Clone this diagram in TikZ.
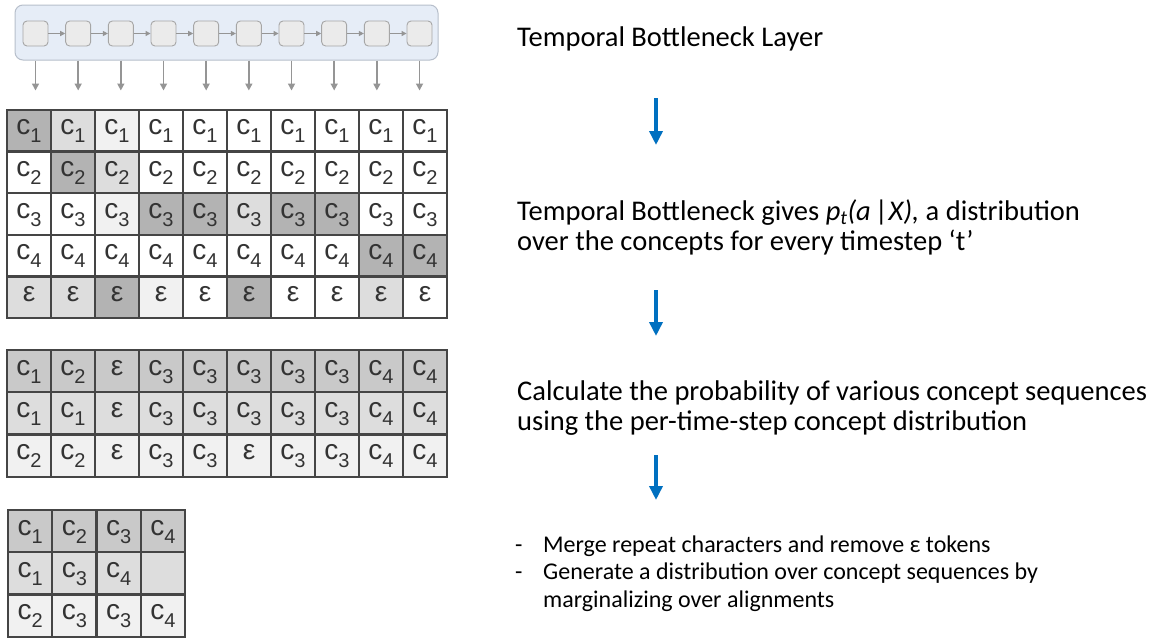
\documentclass[tikz,border=0pt]{standalone}
\usepackage{xcolor}
\usepackage{fontspec}
\setmainfont{Carlito}
\newfontfamily\cellfont{Liberation Sans}
\usetikzlibrary{arrows, arrows.meta, positioning, calc}

\definecolor{bandfill}{HTML}{E6EDF7}
\definecolor{banddraw}{HTML}{B7BFCB}
\definecolor{unitfill}{HTML}{EBEBEB}
\definecolor{unitdraw}{HTML}{A6A6A6}
\definecolor{linkgray}{HTML}{959595}
\definecolor{gridline}{HTML}{454545}
\definecolor{celltext}{HTML}{333333}
\definecolor{shdark}{HTML}{B3B3B3}
\definecolor{shmid}{HTML}{C9C9C9}
\definecolor{shlight}{HTML}{DDDDDD}
\definecolor{shpale}{HTML}{F1F1F1}
\definecolor{flowblue}{HTML}{0070C0}

\tikzstyle{cell} = [draw=gridline, line width=2.3pt, minimum width=44pt, minimum height=41.6pt, inner sep=0pt, text height=11pt, text depth=3pt, text=celltext, font=\cellfont\fontsize{28}{28}\selectfont]
\tikzstyle{unit} = [draw=unitdraw, fill=unitfill, rounded corners=4pt, minimum size=25pt, inner sep=0pt, line width=0.9pt]
\tikzstyle{link} = [draw=linkgray, line width=1.2pt, -{Triangle[length=5pt,width=5pt]}]
\tikzstyle{tap} = [draw=linkgray, line width=1.6pt, -{Triangle[length=7pt,width=7pt]}]
\tikzstyle{flow} = [draw=flowblue, line width=4pt, -{Triangle[length=14pt,width=13pt]}]
\tikzstyle{caption} = [anchor=base west, inner sep=0pt, align=left, font=\fontsize{28.5}{30}\selectfont]

\newcommand{\csub}[1]{c\raisebox{-8pt}{\fontsize{20}{20}\selectfont #1}}
\newcommand{\epsch}{ε}
\newcommand{\tok}[1]{\if#1e\epsch\else\if#1x\else\csub{#1}\fi\fi}

\begin{document}
\begin{tikzpicture}[x=1pt, y=-1pt]
    \path[use as bounding box, fill=white] (0,0) rectangle (1170,640);

    % Bottleneck band
    \node[draw=banddraw, fill=bandfill, rounded corners=8pt, minimum width=423pt, minimum height=55pt, line width=1pt] (band) at (226.5, 32.5) {};
    \foreach \i in {1,...,10}
        \node[unit] (u\i) at ({35.5+42.67*(\i-1)}, 33.5) {};
    \foreach \i [count=\j from 2] in {1,...,9}
        \draw[link] (u\i) -- (u\j);
    \foreach \i in {1,...,10}
        \draw[tap] (u\i |- band.south) -- ++(0,30);

    % Per-timestep distribution
    \foreach \fills/\lab [count=\r] in {
        {shdark,shlight,shpale,white,white,white,white,white,white,white}/1,
        {white,shdark,shlight,white,white,white,white,white,white,white}/2,
        {white,white,shpale,shdark,shdark,shlight,shdark,shdark,white,white}/3,
        {white,white,white,white,white,white,white,white,shdark,shdark}/4,
        {shlight,shlight,shdark,shpale,white,shdark,white,white,shlight,white}/e}
        \foreach \f [count=\c] in \fills
            \node[cell, fill=\f] (ga-\r-\c) at ({7+44*(\c-0.5)}, {110+41.6*(\r-0.5)}) {\tok{\lab}};

    % Alignments
    \foreach \f/\labs [count=\r] in {shmid/{1,2,e,3,3,3,3,3,4,4}, shlight/{1,1,e,3,3,3,3,3,4,4}, shpale/{2,2,e,3,3,e,3,3,4,4}}
        \foreach \l [count=\c] in \labs
            \node[cell, fill=\f, minimum height=42.3pt] (gb-\r-\c) at ({7+44*(\c-0.5)}, {350+42.3*(\r-0.5)}) {\tok{\l}};

    % Collapsed sequences
    \foreach \f/\labs [count=\r] in {shmid/{1,2,3,4}, shlight/{1,3,4,x}, shpale/{2,3,3,4}}
        \foreach \l [count=\c] in \labs
            \node[cell, fill=\f, minimum width=44.25pt, minimum height=42.3pt] (gc-\r-\c) at ({8+44.25*(\c-0.5)}, {510+42.3*(\r-0.5)}) {\tok{\l}};

    % Captions (base = last line)
    \node[caption] (t1) at (517,46) {Temporal Bottleneck Layer};
    \node[caption] (t2) at (517,250) {Temporal Bottleneck gives \textit{p\textsubscript{t}(a\,|X),} a distribution\\over the concepts for every timestep ‘t’};
    \node[caption] (t3) at (517,430) {Calculate the probability of various concept sequences\\using the per-time-step concept distribution};
    \node[caption, font=\fontsize{24}{27.5}\selectfont] (t4) at (515,607) {\makebox[28pt][l]{-}Merge repeat characters and remove ε tokens\\\makebox[28pt][l]{-}Generate a distribution over concept sequences by\\\hspace*{28pt}marginalizing over alignments};

    % Arrows
    \coordinate (f1a) at (656,98);
    \coordinate (f1b) at (656,145);
    \coordinate (f2a) at (656,290);
    \coordinate (f2b) at (656,336);
    \coordinate (f3a) at (656,455);
    \coordinate (f3b) at (656,500);
    \draw[flow] (f1a) -- (f1b);
    \draw[flow] (f2a) -- (f2b);
    \draw[flow] (f3a) -- (f3b);
\end{tikzpicture}
\end{document}
